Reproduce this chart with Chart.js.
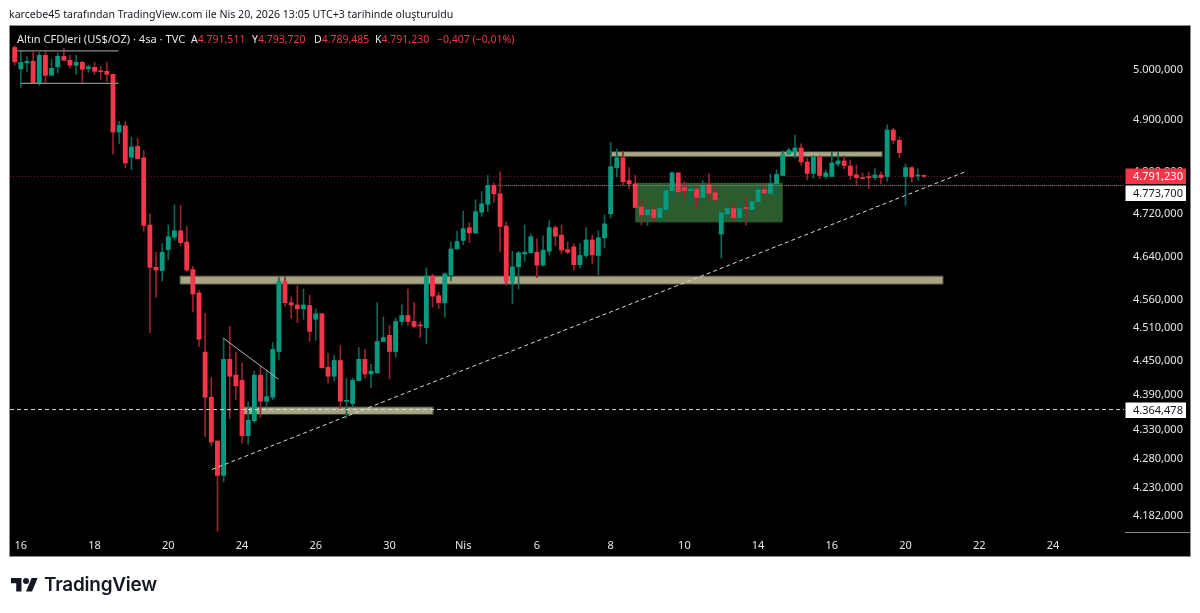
<!DOCTYPE html>
<html lang="tr">
<head>
<meta charset="utf-8">
<title>Altın CFDleri</title>
<script src="https://cdn.jsdelivr.net/npm/chart.js@4"></script>
<style>
html,body{margin:0;padding:0;background:#fff;width:1200px;height:613px;overflow:hidden}
canvas{position:absolute;left:0;top:0;display:block}
.t{position:absolute;white-space:nowrap;font-family:"Noto Sans",sans-serif;font-size:11px;line-height:14px}
.w{color:#e6e6e6}.r{color:#f23645}
</style>
</head>
<body>
<canvas id="c" width="1200" height="613"></canvas>
<div class="t" style="left:9px;top:7px;color:#131722;font-size:10.6px">karcebe45 tarafından TradingView.com ile Nis 20, 2026 13:05 UTC+3 tarihinde oluşturuldu</div>
<div class="t w" style="left:17px;top:32px;font-size:11.1px">Altın CFDleri (US$/OZ) · 4sa · TVC</div>
<div class="t w" style="left:191px;top:32px;font-size:10.5px">A<span class="r">4.791,511</span></div>
<div class="t w" style="left:252px;top:32px;font-size:10.5px">Y<span class="r">4.793,720</span></div>
<div class="t w" style="left:314px;top:32px;font-size:10.5px">D<span class="r">4.789,485</span></div>
<div class="t w" style="left:375px;top:32px;font-size:10.5px">K<span class="r">4.791,230</span></div>
<div class="t r" style="left:437px;top:32px;font-size:10.5px">−0,407 (−0,01%)</div>
<svg style="position:absolute;left:11px;top:575px" width="27" height="21" viewBox="0 0 36 28" fill="#131722"><path d="M14 22H7V11H0V4h14v18zM28 22h-8l7.5-18h8L28 22z"/><circle cx="20" cy="8" r="4"/></svg>
<div class="t" style="left:44px;top:573px;color:#131722;font-family:Inter,sans-serif;font-size:18.9px;line-height:24px;font-weight:600;letter-spacing:-0.2px">TradingView</div>
<script>
// ---- candle values (USD/oz, 4h bars) ----
const opens = [5045,5002,5014,5017,4973,5029,4989,5006,5027,5019,
5009,5015,5002,5005,4997,4997,4991,4877,4889,4828,
4849,4827,4699,4620,4614,4653,4676,4688,4667,4616,
4573,4466,4386,4310,4251,4453,4425,4416,4319,4345,
4425,4379,4386,4467,4594,4555,4551,4544,4550,4525,
4535,4439,4423,4451,4379,4375,4415,4453,4427,4429,
4485,4496,4467,4521,4532,4521,4515,4510,4604,4568,
4555,4606,4654,4670,4694,4684,4723,4738,4774,4758,
4697,4593,4621,4645,4647,4648,4624,4650,4694,4680,
4653,4658,4625,4642,4671,4642,4675,4720,4808,4827,
4783,4777,4733,4718,4728,4713,4728,4764,4798,4770,
4764,4767,4751,4775,4760,4682,4720,4730,4713,4732,
4728,4743,4766,4759,4777,4793,4834,4838,4846,4819,
4797,4829,4791,4791,4815,4821,4811,4794,4788,4791,
4789,4794,4791,4881,4861,4791,4808,4792,4791.511];
const highs = [5049,5037,5026,5035,5035,5036,5021,5034,5043,5029,
5029,5017,5009,5015,5007,5015,4991,4898,4898,4867,
4865,4841,4720,4648,4664,4699,4737,4736,4696,4622,
4578,4536,4421,4310,4491,4512,4466,4447,4378,4432,
4441,4434,4483,4601,4602,4566,4586,4580,4569,4544,
4535,4464,4460,4478,4420,4420,4474,4471,4444,4555,
4529,4514,4527,4551,4580,4556,4521,4619,4608,4574,
4610,4667,4687,4725,4703,4747,4762,4793,4779,4800,
4705,4650,4650,4699,4682,4673,4678,4707,4698,4699,
4667,4664,4664,4694,4680,4688,4718,4857,4844,4840,
4808,4793,4745,4735,4733,4733,4777,4800,4798,4781,
4775,4770,4783,4796,4774,4724,4732,4739,4745,4751,
4747,4775,4777,4796,4804,4841,4846,4871,4854,4827,
4831,4831,4804,4838,4837,4831,4823,4813,4798,4800,
4806,4800,4891,4885,4867,4815,4810,4806,4793.72];
const lows = [5009,4965,4997,4973,4969,4974,4989,4994,5019,5003,
4991,4974,4995,4991,4981,4977,4834,4855,4808,4804,
4825,4687,4501,4565,4595,4634,4670,4660,4612,4539,
4476,4318,4301,4157,4240,4349,4382,4306,4304,4341,
4351,4370,4382,4453,4549,4527,4519,4525,4485,4487,
4438,4411,4415,4365,4350,4369,4415,4420,4403,4429,
4485,4418,4457,4514,4514,4510,4492,4481,4547,4544,
4529,4595,4654,4662,4666,4684,4715,4724,4742,4649,
4587,4553,4580,4631,4647,4601,4622,4643,4660,4645,
4645,4615,4619,4638,4627,4606,4656,4712,4790,4775,
4768,4732,4699,4698,4705,4704,4724,4747,4760,4751,
4738,4730,4743,4747,4742,4637,4709,4706,4705,4699,
4723,4743,4759,4759,4751,4793,4834,4827,4813,4785,
4787,4787,4787,4791,4811,4806,4785,4774,4787,4768,
4785,4777,4782,4854,4827,4736,4781,4784,4789.485];
const closes = [5016,5015,5017,4973,5029,4989,5003,5027,5019,5009,
5015,5001,5006,4997,4996,4991,4877,4890,4817,4848,
4825,4698,4620,4615,4648,4677,4688,4666,4615,4571,
4489,4386,4308,4251,4453,4423,4406,4319,4346,4425,
4379,4387,4471,4594,4555,4551,4544,4551,4503,4535,
4438,4423,4451,4379,4380,4416,4453,4427,4432,4485,
4492,4467,4521,4532,4521,4512,4513,4604,4567,4555,
4608,4654,4668,4692,4684,4724,4739,4774,4758,4696,
4593,4621,4647,4648,4677,4624,4652,4694,4678,4652,
4648,4625,4642,4671,4643,4675,4701,4810,4827,4781,
4777,4732,4718,4728,4713,4730,4764,4798,4762,4764,
4767,4751,4774,4759,4747,4722,4730,4713,4730,4730,
4743,4766,4759,4777,4795,4834,4842,4846,4819,4797,
4829,4793,4798,4817,4821,4812,4793,4789,4787,4789,
4794,4789,4881,4861,4837,4808,4790,4792.5,4791.23];

// ---- axis ticks ----
const priceTicks = [5000,4900,4800,4720,4640,4560,4510,4450,4390,4330,4280,4230,4182];
const dateTickBars = [1,13,25,37,49,61,73,85,97,109,121,133,145,157,169];
const dateTickLabels = ["16","18","20","24","26","30","Nis","6","8","10","14","16","20","22","24"];
const xRange = [-0.765,180.55];
const yRange = [4155.8,5088.4];

// ---- drawn zones: bar index range and price range ----
const zoneFromBar = [26.9,37.2,97.1];
const zoneToBar   = [151.1,68.1,141.2];
const zoneTopPrice = [4604,4369,4839];
const zoneBotPrice = [4589,4356,4829];
const boxFromBar = [101];
const boxToBar   = [125];
const boxTopPrice = [4779];
const boxBotPrice = [4704];

// ---- drawn lines ----
const trendBars = [32.1,154.7];
const trendPrices = [4261,4800];
const wedgeBars = [33.95,42.9];
const wedgePrices = [4491,4418];
const rangeTopBars = [0.4,16.9];
const rangeTopPrices = [5038,5038];
const rangeBotBars = [1,16.9];
const rangeBotPrices = [4973,4973];
const supportPrice = 4364.478;
const lastPrice = 4791.23;
const markPrice = 4773.7;
const markFromBar = 78.7;

// ---- price tags ----
const tagPrices = [lastPrice,markPrice,supportPrice];
const tagTexts  = ["4.791,230","4.773,700","4.364,478"];

const UP='#089981',DOWN='#f5354a',UPW='#0b6657',DOWNW='#98222f';
const isUp = closes.map((c,i)=>c>=opens[i]);
const bars = opens.map((_,i)=>i);
const pts=(xs,ys)=>xs.map((x,i)=>({x,y:ys[i]}));
const lineDs=(data,color,dash,w,order)=>({type:'line',data,borderColor:color,borderDash:dash,borderWidth:w,pointRadius:0,tension:0,order,fill:false});

const panel={id:'panel',
 beforeDraw(ch){const c=ch.ctx;c.save();c.fillStyle='#000';c.fillRect(10,26,1180,531);c.restore();},
 beforeDatasetsDraw(ch){
  const c=ch.ctx,x=ch.scales.x,y=ch.scales.y;
  const a=ch.chartArea;c.save();c.beginPath();c.rect(a.left,a.top,a.width,a.height);c.clip();
  boxFromBar.forEach((b,i)=>{const l=x.getPixelForValue(b),r=x.getPixelForValue(boxToBar[i]),t=y.getPixelForValue(boxTopPrice[i]),u=y.getPixelForValue(boxBotPrice[i]);
   c.fillStyle='#2a5c2d';c.fillRect(l,t,r-l,u-t);});
  zoneFromBar.forEach((b,i)=>{const l=x.getPixelForValue(b),r=x.getPixelForValue(zoneToBar[i]),t=y.getPixelForValue(zoneTopPrice[i]),u=y.getPixelForValue(zoneBotPrice[i]);
   c.fillStyle='#a8a584';c.fillRect(l,t,r-l,u-t);c.strokeStyle='#3f3e32';c.lineWidth=1;c.strokeRect(l,t,r-l,u-t);});
  c.restore();
 },
 afterDraw(ch){
  const c=ch.ctx,y=ch.scales.y;c.save();
  c.strokeStyle='#8a8a8a';c.lineWidth=1;c.beginPath();
  c.moveTo(9.5,25.5);c.lineTo(1190.5,25.5);c.lineTo(1190.5,556.5);c.lineTo(9.5,556.5);c.closePath();
  c.moveTo(1125,532.5);c.lineTo(1190,532.5);c.stroke();
  const tagShift=[0,7,0];
  tagPrices.forEach((p,i)=>{const m=Math.round(y.getPixelForValue(p))+tagShift[i];
   c.fillStyle=i==0?'#f5354a':'#fff';c.fillRect(1125.5,m-7.5,60.5,15.5);
   c.fillStyle=i==0?'#fff':'#131722';c.font='11px "Noto Sans"';c.textBaseline='middle';c.textAlign='left';
   c.fillText(tagTexts[i],1133,m+0.5);});
  c.restore();
 }};

new Chart(document.getElementById('c'),{
 data:{datasets:[
  lineDs(pts(xRange,[lastPrice,lastPrice]),'#7d1b26',[1,2],1,6),
  {type:'bar',data:bars.map(i=>({x:i,y:[lows[i],highs[i]]})),backgroundColor:isUp.map(u=>u?UPW:DOWNW),barThickness:1,grouped:false,order:5,minBarLength:1},
  {type:'bar',data:bars.map(i=>({x:i,y:[opens[i],closes[i]]})),backgroundColor:isUp.map(u=>u?UP:DOWN),barThickness:4.2,grouped:false,order:4,minBarLength:1},
  lineDs(pts(rangeTopBars,rangeTopPrices),'#8a8a8a',[],1.3,3),
  lineDs(pts(rangeBotBars,rangeBotPrices),'#8a8a8a',[],1.3,3),
  lineDs(pts(wedgeBars,wedgePrices),'#b4b4b4',[],1,3),
  lineDs(pts(trendBars,trendPrices),'#d8d8d8',[4,3],1,2),
  lineDs(pts(xRange,[supportPrice,supportPrice]),'#d8d8d8',[4,3],1,2),
  lineDs(pts([markFromBar,xRange[1]],[markPrice,markPrice]),'#8c8c8c',[1,1],1,2)
 ]},
 options:{
  responsive:false,animation:false,
  layout:{padding:{left:10,right:10,top:26,bottom:56}},
  plugins:{legend:{display:false},tooltip:{enabled:false},title:{display:false}},
  scales:{
   x:{type:'linear',min:xRange[0],max:xRange[1],offset:false,
    grid:{display:false,drawTicks:false},border:{display:false},
    afterBuildTicks(s){s.ticks=dateTickBars.map(v=>({value:v}));},
    afterFit(s){s.height=25;},
    ticks:{autoSkip:false,maxRotation:0,color:'#e6e6e6',padding:7,font:{family:'"Noto Sans"',size:11},
     callback:v=>dateTickLabels[dateTickBars.indexOf(v)]}},
   y:{type:'logarithmic',position:'right',min:yRange[0],max:yRange[1],bounds:'data',
    grid:{display:false,drawTicks:false},border:{display:false},
    afterBuildTicks(s){s.ticks=priceTicks.map(v=>({value:v}));},
    afterFit(s){s.width=66;},
    ticks:{autoSkip:false,color:'#e6e6e6',padding:9,font:{family:'"Noto Sans"',size:11},
     callback:v=>{const a=String(Math.floor(v));return a[0]+'.'+a.slice(1)+',000';}}}
  }
 },
 plugins:[panel]
});
</script>
</body>
</html>
